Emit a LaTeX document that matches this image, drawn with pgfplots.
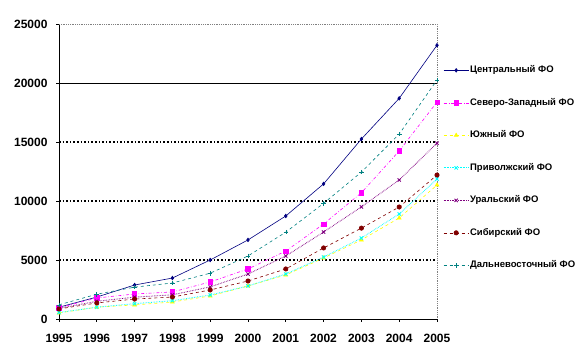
\documentclass[border=0pt]{standalone}
\usepackage{fontspec}
\setmainfont{Liberation Sans}
\usepackage{pgfplots}
\pgfplotsset{compat=1.18}
\definecolor{cNavy}{RGB}{0,0,128}
\definecolor{cMag}{RGB}{255,0,255}
\definecolor{cYel}{RGB}{255,255,0}
\definecolor{cCyan}{RGB}{0,255,255}
\definecolor{cPur}{RGB}{128,0,128}
\definecolor{cDred}{RGB}{128,0,0}
\definecolor{cTeal}{RGB}{0,128,128}
\begin{document}
\begin{tikzpicture}[x=1pt,y=1pt]
\path[use as bounding box] (-59,-39) rectangle (523,319);
\begin{axis}[
  at={(0,0)}, anchor=south west,
  scale only axis, width=378pt, height=295pt,
  xmin=1995, xmax=2005, ymin=0, ymax=25000,
  axis x line*=bottom, axis y line*=left,
  axis line style={black, line width=0.8pt, -},
  xtick={1995,...,2005}, ytick={0,5000,...,25000},
  scaled y ticks=false,
  /pgf/number format/assume math mode=true,
  xticklabel style={/pgf/number format/1000 sep={}, font=\fontsize{12}{12}\selectfont\bfseries, yshift=-9pt},
  yticklabel style={/pgf/number format/1000 sep={}, font=\fontsize{12}{12}\selectfont\bfseries, xshift=-5pt},
  tick align=outside, major tick length=3pt,
  tick style={black, line width=0.6pt},
  clip=false,
  legend style={at={(1.008,0.869)}, anchor=north west, draw=none, fill=none,
    font=\fontsize{9.5}{9.5}\selectfont\bfseries, row sep=21.5pt,
    nodes={inner sep=1pt, text height=7pt, text depth=2pt, anchor=west}},
  legend cell align=left,
  legend image code/.code={\draw[mark repeat=2,mark phase=2,#1] plot coordinates {(0pt,0pt)(12.5pt,0pt)(25pt,0pt)};},
  every axis plot/.append style={line width=0.6pt, mark size=1.8pt},
]
\draw[black, dotted, line width=1.6pt] (axis cs:1995,5000) -- (axis cs:2005,5000);
\draw[black, dotted, line width=1.6pt] (axis cs:1995,10000) -- (axis cs:2005,10000);
\draw[black, dotted, line width=1.6pt] (axis cs:1995,15000) -- (axis cs:2005,15000);
\draw[black, line width=0.9pt] (axis cs:1995,20000) -- (axis cs:2005,20000);
\draw[gray, densely dotted, line width=0.8pt] (axis cs:1995,25000) -- (axis cs:2005,25000) -- (axis cs:2005,0);

\addplot[cNavy, solid, mark=diamond*, mark options={solid}] coordinates {
(1995,1000)(1996,1860)(1997,2880)(1998,3470)(1999,5000)(2000,6700)(2001,8730)(2002,11450)(2003,15250)(2004,18700)(2005,23200)};
\addlegendentry{Центральный ФО}
\addplot[cMag, dashdotted, mark=square*, mark size=2.2pt, mark options={solid}] coordinates {
(1995,950)(1996,1780)(1997,2120)(1998,2290)(1999,3140)(2000,4240)(2001,5760)(2002,8050)(2003,10700)(2004,14240)(2005,18380)};
\addlegendentry{Северо-Западный ФО}
\addplot[cYel, dashed, mark=triangle*, mark size=2.2pt, mark options={solid}] coordinates {
(1995,510)(1996,1000)(1997,1190)(1998,1440)(1999,1950)(2000,2800)(2001,3730)(2002,5170)(2003,6700)(2004,8560)(2005,11350)};
\addlegendentry{Южный ФО}
\addplot[cCyan, densely dotted, line width=0.9pt, mark=x, mark size=2.3pt, mark options={solid}] coordinates {
(1995,550)(1996,1000)(1997,1300)(1998,1550)(1999,2030)(2000,2800)(2001,3810)(2002,5250)(2003,6860)(2004,8900)(2005,11860)};
\addlegendentry{Приволжский ФО}
\addplot[cPur, densely dotted, line width=0.9pt, mark=x, mark size=2.3pt, mark options={solid}] coordinates {
(1995,900)(1996,1500)(1997,1850)(1998,2050)(1999,2720)(2000,3810)(2001,5340)(2002,7370)(2003,9500)(2004,11780)(2005,14900)};
\addlegendentry{Уральский ФО}
\addplot[cDred, dashed, mark=*, mark size=2.2pt, mark options={solid}] coordinates {
(1995,850)(1996,1360)(1997,1690)(1998,1860)(1999,2460)(2000,3220)(2001,4240)(2002,6020)(2003,7700)(2004,9490)(2005,12200)};
\addlegendentry{Сибирский ФО}
\addplot[cTeal, dashed, mark=+, mark size=2.3pt, mark options={solid}] coordinates {
(1995,1200)(1996,2100)(1997,2700)(1998,3050)(1999,3880)(2000,5340)(2001,7360)(2002,9800)(2003,12450)(2004,15670)(2005,20250)};
\addlegendentry{Дальневосточный ФО}
\end{axis}
\end{tikzpicture}
\end{document}
